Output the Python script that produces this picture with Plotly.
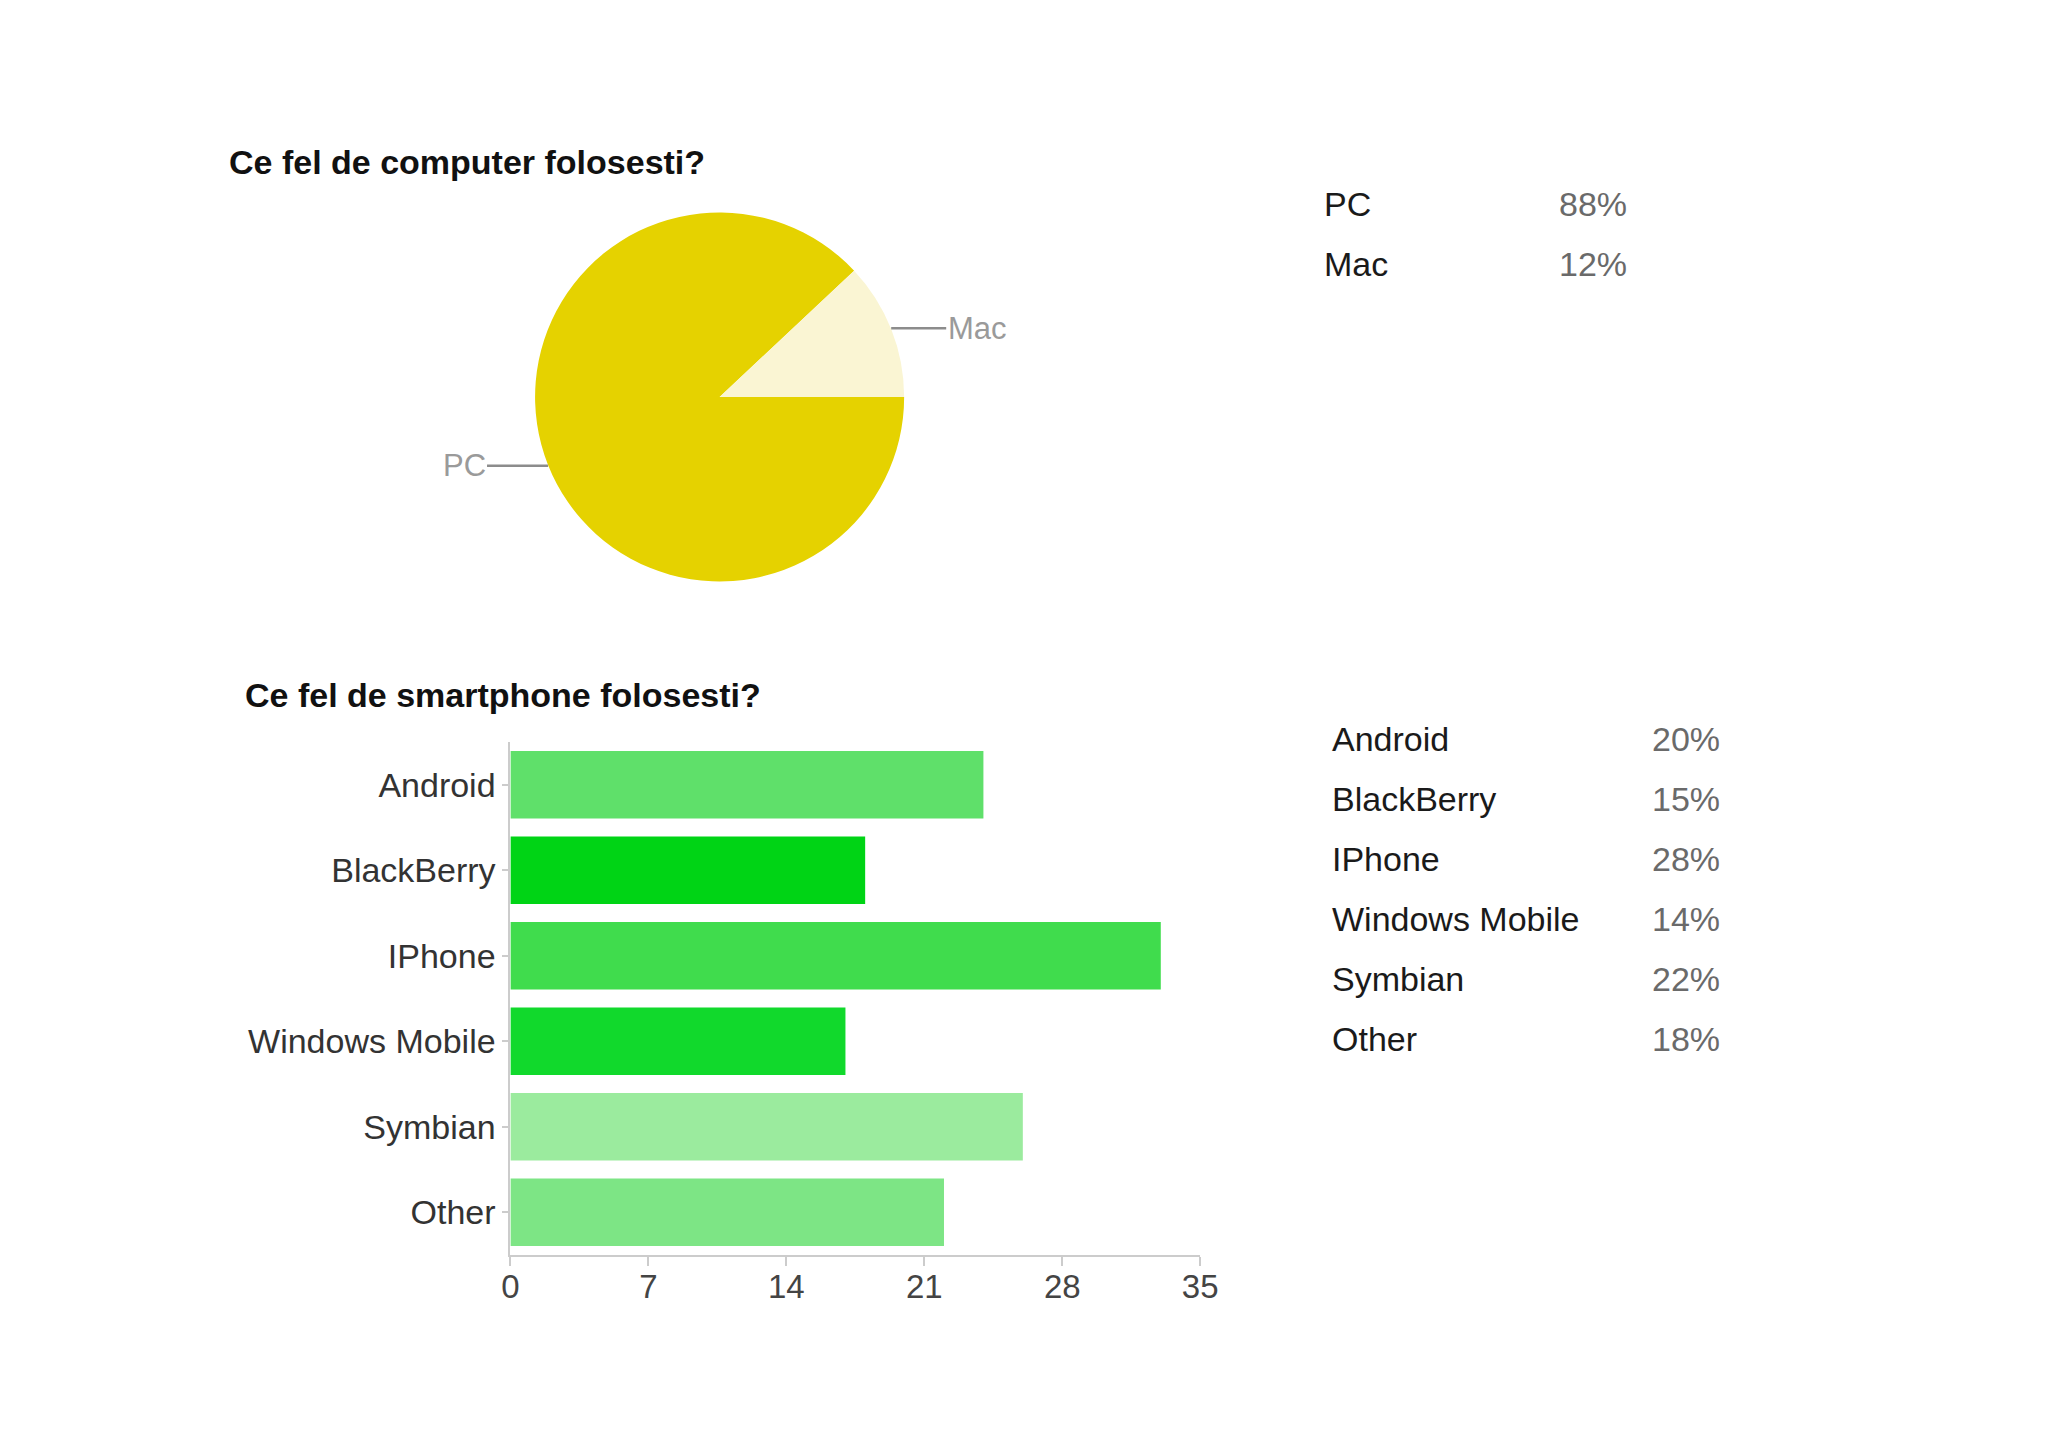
import math
import plotly.graph_objects as go

# survey data
computer_labels = ["PC", "Mac"]
computer_share = [88, 12]
computer_colors = ["#e5d200", "#faf5d3"]

phone_labels = ["Android", "BlackBerry", "IPhone", "Windows Mobile", "Symbian", "Other"]
phone_counts = [24, 18, 33, 17, 26, 22]
phone_share = [20, 15, 28, 14, 22, 18]
phone_colors = ["#5fe06a", "#00d415", "#40dc4d", "#11d92c", "#9beb9e", "#7de585"]

x_ticks = [0, 7, 14, 21, 28, 35]

W, H = 2048, 1447
OFF = 8  # page body margin
FONT = "Liberation Sans"


def px(x):
    return (x - OFF) / W


def py(y):
    return 1 - (y - OFF) / H


fig = go.Figure()

# pie: PC / Mac
pie_cx, pie_cy, pie_r = 720, 397, 187
fig.add_trace(go.Pie(
    labels=computer_labels,
    values=computer_share,
    marker=dict(colors=computer_colors, line=dict(width=0)),
    sort=False,
    direction="clockwise",
    rotation=90,
    textinfo="none",
    hoverinfo="label+percent",
    showlegend=False,
    domain=dict(x=[px(pie_cx - pie_r), px(pie_cx + pie_r)],
                y=[py(pie_cy + pie_r), py(pie_cy - pie_r)]),
))

# horizontal bars
fig.add_trace(go.Bar(
    y=phone_labels,
    x=phone_counts,
    orientation="h",
    marker=dict(color=phone_colors, line=dict(width=0)),
    showlegend=False,
    xaxis="x",
    yaxis="y",
))

annotations = []

# pie leader labels, placed at the middle angle of each slice
start = 90.0  # clockwise from 12 o'clock
total = sum(computer_share)
for lab, val in zip(computer_labels, computer_share):
    sweep = 360.0 * val / total
    mid = start + sweep / 2
    start += sweep
    ang = math.radians(mid)
    ex = pie_cx + pie_r * math.sin(ang)
    ey = pie_cy - pie_r * math.cos(ang)
    right = math.sin(ang) >= 0
    annotations.append(dict(
        x=px(ex), y=py(ey), xref="paper", yref="paper",
        text=lab, showarrow=True, arrowhead=0, arrowwidth=2.5,
        arrowcolor="#8c8c8c", ax=86 if right else -84, ay=0,
        font=dict(family=FONT, size=31, color="#9a9a9a"),
    ))

# titles
annotations.append(dict(x=px(221), y=py(162), xref="paper", yref="paper",
                        text="<b>Ce fel de computer folosesti?</b>", showarrow=False,
                        xanchor="left", yanchor="middle",
                        font=dict(family=FONT, size=34, color="#111111")))
annotations.append(dict(x=px(237), y=py(695), xref="paper", yref="paper",
                        text="<b>Ce fel de smartphone folosesti?</b>", showarrow=False,
                        xanchor="left", yanchor="middle",
                        font=dict(family=FONT, size=34, color="#111111")))

# side tables
for i, (lab, val) in enumerate(zip(computer_labels, computer_share)):
    y = 204 + i * 60
    annotations.append(dict(x=px(1330), y=py(y), xref="paper", yref="paper", text=lab,
                            showarrow=False, xanchor="left", yanchor="middle",
                            font=dict(family=FONT, size=34, color="#1a1a1a")))
    annotations.append(dict(x=px(1642), y=py(y), xref="paper", yref="paper", text=f"{val}%",
                            showarrow=False, xanchor="right", yanchor="middle",
                            font=dict(family=FONT, size=34, color="#6a6a6a")))

for i, (lab, val) in enumerate(zip(phone_labels, phone_share)):
    y = 739 + i * 60
    annotations.append(dict(x=px(1339), y=py(y), xref="paper", yref="paper", text=lab,
                            showarrow=False, xanchor="left", yanchor="middle",
                            font=dict(family=FONT, size=34, color="#1a1a1a")))
    annotations.append(dict(x=px(1736), y=py(y), xref="paper", yref="paper", text=f"{val}%",
                            showarrow=False, xanchor="right", yanchor="middle",
                            font=dict(family=FONT, size=34, color="#6a6a6a")))

fig.update_layout(
    width=W, height=H,
    margin=dict(l=0, r=0, t=0, b=0),
    paper_bgcolor="#ffffff",
    plot_bgcolor="#ffffff",
    bargap=0.21,
    font=dict(family=FONT, size=33, color="#333333"),
    xaxis=dict(domain=[px(508), px(1207)], range=[0, 35], tickvals=x_ticks,
               showgrid=False, zeroline=False, showline=True, linecolor="#cccccc",
               linewidth=2, ticks="outside", ticklen=9, tickcolor="#cccccc",
               tickwidth=2, ticklabelstandoff=-8,
               tickfont=dict(family=FONT, size=33, color="#444444"),
               anchor="y", fixedrange=True),
    yaxis=dict(domain=[py(1255), py(742)], categoryorder="array",
               categoryarray=phone_labels[::-1], showgrid=False, zeroline=False,
               showline=True, linecolor="#cccccc", linewidth=2, ticks="outside",
               ticklen=6, tickcolor="#cccccc", tickwidth=2,
               tickfont=dict(family=FONT, size=34, color="#333333"),
               anchor="x", fixedrange=True),
    annotations=annotations,
)

fig.write_html("out.html")
